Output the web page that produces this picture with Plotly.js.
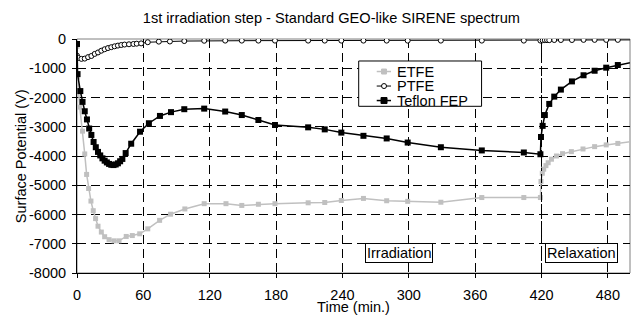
<!DOCTYPE html>
<html>
<head>
<meta charset="utf-8">
<script src="https://cdn.plot.ly/plotly-3.0.1.min.js"></script>
<style>html,body{margin:0;padding:0;background:#fff;}#chart{width:636px;height:315px;}</style>
</head>
<body>
<div id="chart"></div>
<script>
// ---- data ----
const fepTime = [0, 0.5, 3, 5, 7, 9, 11, 13, 15, 17, 19, 21, 23, 25, 27, 29, 31, 33, 35, 37, 39, 41, 44, 49, 57, 65, 75, 85, 97, 115, 134, 149, 164, 179, 209, 224, 239, 259, 280, 299, 329, 366, 404, 419, 419.5, 421, 423, 427, 431.5, 437.5, 447.5, 458, 468, 478.5, 489, 510];
const fepValues = [-170, -1200, -1780, -2150, -2470, -2750, -3060, -3280, -3520, -3700, -3860, -3980, -4080, -4160, -4220, -4270, -4300, -4310, -4290, -4250, -4180, -4100, -3900, -3580, -3170, -2880, -2630, -2500, -2400, -2380, -2480, -2600, -2770, -2940, -3020, -3090, -3200, -3310, -3400, -3540, -3700, -3810, -3880, -3940, -3350, -2970, -2600, -2220, -1970, -1730, -1450, -1240, -1085, -980, -890, -730];

const etfeTime = [0, 0.5, 2.5, 5, 7, 8.7, 10.5, 12.6, 14.7, 16.8, 19, 22, 25, 29, 33.5, 38, 44.5, 50, 56.7, 64, 74.7, 84.6, 97.5, 115, 134.7, 149, 164, 179, 209, 224, 239, 259, 280, 299, 329, 366, 404, 419, 419.5, 420.7, 422, 424, 426, 429, 433.5, 439, 447, 457.5, 468, 478.5, 489, 510];
const etfeValues = [-250, -1300, -2330, -3150, -3930, -4630, -5110, -5540, -5870, -6140, -6400, -6600, -6760, -6860, -6900, -6900, -6750, -6720, -6660, -6490, -6200, -5990, -5810, -5630, -5630, -5690, -5650, -5630, -5600, -5590, -5520, -5450, -5530, -5550, -5580, -5420, -5420, -5420, -4870, -4590, -4450, -4330, -4230, -4110, -4000, -3920, -3850, -3760, -3680, -3620, -3570, -3460];

const ptfeTime = [0, 1.2, 4, 7, 10, 13, 16, 19, 22, 25, 28, 31, 34, 37, 40, 43, 47, 51, 54, 58, 64, 74, 84, 97, 115, 134, 149, 164, 179, 209, 224, 239, 259, 280, 299, 329, 366, 404, 419, 421, 423, 425, 427, 431.5, 437.5, 447.5, 458, 468, 478.5, 489, 510];
const ptfeValues = [-570, -650, -680, -670, -620, -580, -510, -460, -400, -350, -310, -280, -250, -225, -205, -190, -180, -170, -160, -150, -110, -90, -85, -70, -60, -55, -55, -55, -55, -55, -55, -55, -55, -55, -55, -55, -55, -55, -55, -45, -40, -40, -40, -35, -35, -35, -30, -30, -30, -30, -30];

const seriesNames = ["ETFE", "PTFE", "Teflon FEP"];
const xTicks = [0, 60, 120, 180, 240, 300, 360, 420, 480];
const yTicks = [0, -1000, -2000, -3000, -4000, -5000, -6000, -7000, -8000];
const phaseLabels = ["Irradiation", "Relaxation"];
const phaseLabelTime = [291, 456];
const phaseLabelLevel = [-7330, -7330];
const phaseBoundary = 420;
const chartTitle = "1st irradiation step - Standard GEO-like SIRENE spectrum";
const xTitle = "Time (min.)";
const yTitle = "Surface Potential (V)";

const FONT = "Liberation Sans, Arial, sans-serif";
const FS = 14.5;

// series styles
const styles = [
  {line: {color: "#c0c0c0", width: 1.5}, marker: {symbol: "square", size: 5, color: "#c0c0c0"}},
  {line: {color: "#000", width: 1}, marker: {symbol: "circle", size: 5, color: "#fff", line: {color: "#000", width: 1}}},
  {line: {color: "#000", width: 1.5}, marker: {symbol: "square", size: 6, color: "#000"}}
];
const xs = [etfeTime, ptfeTime, fepTime];
const ys = [etfeValues, ptfeValues, fepValues];

const traces = seriesNames.map((n, i) => ({
  x: xs[i], y: ys[i], name: n, type: "scatter", mode: "lines+markers",
  line: styles[i].line, marker: styles[i].marker, showlegend: false
}));

// phase labels
const annotations = phaseLabels.map((t, i) => ({
  x: phaseLabelTime[i], y: phaseLabelLevel[i], xref: "x", yref: "y",
  text: t, showarrow: false,
  font: {family: FONT, size: FS, color: "#000"},
  bgcolor: "#fff", bordercolor: "#000", borderwidth: 1, borderpad: 1
}));

// y-axis title (positioned as in the reference)
annotations.push({
  text: yTitle, xref: "paper", yref: "paper", x: -0.101, y: 0.5,
  xanchor: "center", yanchor: "middle", textangle: -90, showarrow: false,
  font: {family: FONT, size: FS, color: "#000"}
});

// compact boxed legend (as in the reference)
const legBox = {x0: 0.5094, x1: 0.7316, y0: 0.7124, y1: 0.906};
const legRows = [0.861, 0.799, 0.737];
const legLine = {x0: 0.5420, x1: 0.5678, xm: 0.5552, xt: 0.575};
const shapes = [
  {type: "rect", xref: "paper", yref: "paper", x0: 0, x1: 1, y0: 0, y1: 1, line: {color: "#808080", width: 1}, layer: "below"},
  {type: "line", xref: "x", yref: "paper", x0: phaseBoundary, x1: phaseBoundary, y0: 0, y1: 1, line: {color: "#000", width: 1, dash: "dashdot"}},
  {type: "rect", xref: "paper", yref: "paper", x0: legBox.x0, x1: legBox.x1, y0: legBox.y0, y1: legBox.y1, line: {color: "#000", width: 1}, fillcolor: "#fff", layer: "above"}
];
seriesNames.forEach((n, i) => {
  const st = styles[i];
  shapes.push({type: "line", xref: "paper", yref: "paper", x0: legLine.x0, x1: legLine.x1, y0: legRows[i], y1: legRows[i], line: {color: st.line.color, width: st.line.width}, layer: "above"});
  const h = st.marker.size / 2;
  shapes.push({
    type: st.marker.symbol === "circle" ? "circle" : "rect",
    xref: "paper", yref: "paper", xsizemode: "pixel", ysizemode: "pixel",
    xanchor: legLine.xm, yanchor: legRows[i], x0: -h, x1: h, y0: -h, y1: h,
    fillcolor: st.marker.color,
    line: {color: st.marker.line ? st.marker.line.color : st.marker.color, width: 1}, layer: "above"
  });
  annotations.push({
    text: n, xref: "paper", yref: "paper", x: legLine.xt, y: legRows[i],
    xanchor: "left", yanchor: "middle", showarrow: false, height: 14, valign: "middle",
    font: {family: FONT, size: FS, color: "#000"}
  });
});

const layout = {
  width: 636, height: 315,
  margin: {l: 77, r: 6, t: 39, b: 42},
  paper_bgcolor: "#fff", plot_bgcolor: "#fff",
  font: {family: FONT, size: FS, color: "#000"},
  title: {text: chartTitle, font: {family: FONT, size: 14.6, color: "#000"}, x: 0.521, xanchor: "center", y: 0.944, yanchor: "middle"},
  xaxis: {
    range: [0, 500], tickvals: xTicks, ticktext: xTicks.map(String),
    showgrid: true, gridcolor: "#000", gridwidth: 1, griddash: "9px,5px",
    showline: true, linecolor: "#000", linewidth: 1,
    ticks: "outside", ticklen: 4, tickcolor: "#000", ticklabelstandoff: 5,
    tickfont: {family: FONT, size: FS},
    zeroline: false,
    title: {text: xTitle, font: {family: FONT, size: FS}, standoff: 0},
    automargin: false
  },
  yaxis: {
    range: [-8000, 0], tickvals: yTicks, ticktext: yTicks.map(String),
    showgrid: true, gridcolor: "#000", gridwidth: 1, griddash: "9px,5px",
    showline: true, linecolor: "#000", linewidth: 1,
    ticks: "outside", ticklen: 4, tickcolor: "#000", ticklabelstandoff: 3,
    tickfont: {family: FONT, size: FS},
    zeroline: false,
    automargin: false
  },
  showlegend: false,
  annotations: annotations,
  shapes: shapes
};

Plotly.newPlot("chart", traces, layout, {displayModeBar: false, staticPlot: true});
</script>
</body>
</html>
